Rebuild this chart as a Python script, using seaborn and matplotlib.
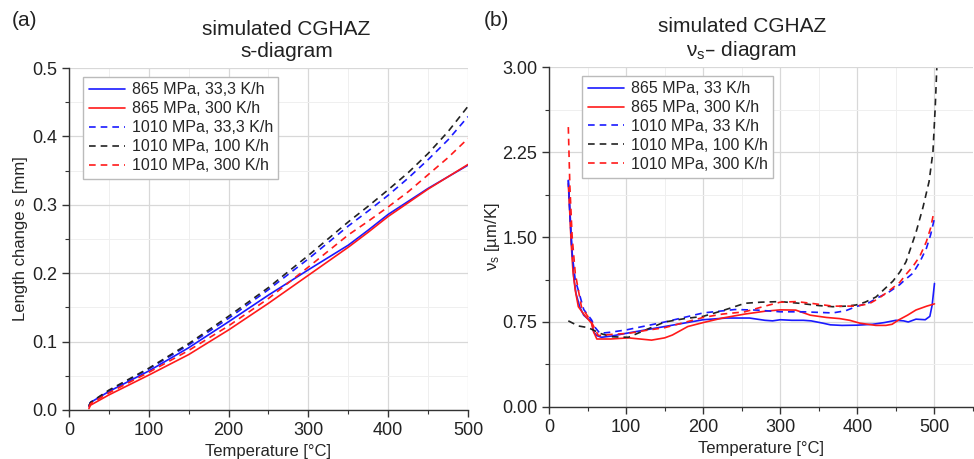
import matplotlib
matplotlib.use("Agg")
import matplotlib.pyplot as plt
import seaborn as sns
import numpy as np
from matplotlib.ticker import MultipleLocator, FormatStrFormatter

# ---- (a) s-diagram: length change s [mm] ----
T_s = [25, 27, 50, 100, 150, 200, 250, 300, 350, 375, 400, 425, 450, 475, 500]
s_865_33 = [0.005, 0.011, 0.027, 0.057, 0.091, 0.129, 0.168, 0.205, 0.241, 0.263, 0.286,
            0.305, 0.324, 0.341, 0.358]
s_865_300 = [0.002, 0.007, 0.022, 0.051, 0.081, 0.117, 0.156, 0.197, 0.238, 0.260, 0.283,
             0.303, 0.323, 0.341, 0.359]
s_1010_33 = [0.006, 0.011, 0.028, 0.060, 0.095, 0.134, 0.176, 0.221, 0.269, 0.291, 0.314,
             0.339, 0.366, 0.395, 0.429]
s_1010_100 = [0.006, 0.011, 0.029, 0.061, 0.097, 0.137, 0.179, 0.226, 0.275, 0.298, 0.322,
              0.347, 0.375, 0.407, 0.444]
s_1010_300 = [0.004, 0.009, 0.025, 0.055, 0.087, 0.123, 0.163, 0.209, 0.256, 0.276, 0.297,
              0.319, 0.344, 0.369, 0.397]

# ---- (b) v_s-diagram: [um/K] ----
T_v_865_33 = [25, 27, 29, 32, 35, 40, 45, 50, 55, 58, 62, 68, 80, 100, 125, 150, 175, 200,
              230, 260, 280, 290, 300, 315, 330, 340, 355, 365, 380, 400, 420, 435, 450,
              460, 466, 476, 488, 494, 497, 500]
v_865_33 = [2.00, 1.75, 1.47, 1.15, 1.00, 0.88, 0.81, 0.78, 0.76, 0.66, 0.63, 0.615, 0.625,
            0.65, 0.68, 0.71, 0.74, 0.77, 0.785, 0.785, 0.765, 0.76, 0.77, 0.765, 0.765,
            0.76, 0.74, 0.725, 0.72, 0.722, 0.73, 0.745, 0.765, 0.76, 0.75, 0.775, 0.77,
            0.80, 0.90, 1.09]

T_v_865_300 = [25, 27, 28.5, 31, 34, 38, 46, 55, 58, 62, 80, 103, 118, 133, 150, 160, 180,
               200, 225, 254, 280, 300, 320, 339, 360, 377, 390, 403, 424, 437, 445, 454,
               465, 476, 490, 500]
v_865_300 = [1.97, 1.70, 1.47, 1.20, 1.03, 0.885, 0.81, 0.74, 0.66, 0.60, 0.60, 0.61, 0.60,
             0.59, 0.61, 0.635, 0.71, 0.745, 0.785, 0.82, 0.845, 0.857, 0.855, 0.81, 0.79,
             0.78, 0.765, 0.74, 0.72, 0.72, 0.73, 0.77, 0.81, 0.856, 0.89, 0.91]

T_v_1010_33 = [25, 27, 30, 34, 38, 45, 55, 60, 66, 80, 100, 125, 150, 175, 200, 241, 270,
               300, 330, 368, 385, 398, 415, 428, 440, 455, 463, 472, 481, 489.5, 495, 499.5]
v_1010_33 = [2.00, 1.70, 1.35, 1.12, 1.03, 0.86, 0.77, 0.70, 0.65, 0.66, 0.68, 0.715, 0.75,
             0.79, 0.83, 0.86, 0.855, 0.84, 0.84, 0.83, 0.85, 0.885, 0.92, 0.97, 1.01, 1.08,
             1.13, 1.18, 1.28, 1.40, 1.52, 1.65]

T_v_1010_100 = [25, 38, 51, 66, 81, 103, 120, 150, 176, 200, 225, 254, 275, 300, 325, 350,
                368, 385, 398, 410, 424, 435, 446, 455, 463, 470, 476, 485, 493, 498, 501, 503]
v_1010_100 = [0.76, 0.715, 0.70, 0.65, 0.62, 0.615, 0.665, 0.75, 0.78, 0.80, 0.85, 0.915,
              0.925, 0.93, 0.915, 0.895, 0.885, 0.89, 0.90, 0.925, 0.97, 1.04, 1.11, 1.19,
              1.28, 1.42, 1.54, 1.76, 1.99, 2.25, 2.65, 2.99]

T_v_1010_300 = [25, 27, 30, 34, 42, 55, 64, 80, 103, 125, 150, 175, 200, 225, 254, 280,
                300, 321, 340, 368, 398, 415, 428, 440, 455, 463, 472, 481, 489.5, 495, 499.5]
v_1010_300 = [2.47, 1.95, 1.50, 1.18, 0.885, 0.75, 0.63, 0.64, 0.65, 0.675, 0.70, 0.745,
              0.79, 0.82, 0.84, 0.89, 0.925, 0.93, 0.915, 0.89, 0.89, 0.91, 0.96, 1.02,
              1.10, 1.17, 1.24, 1.33, 1.46, 1.58, 1.73]

BLUE = "#1a1aff"
RED = "#ff1a1a"
BLACK = "#222222"
DASH = (0, (4, 3))

sns.set_style("ticks")
plt.rcParams["font.family"] = ["Liberation Sans", "DejaVu Sans"]
plt.rcParams["mathtext.default"] = "regular"

fig = plt.figure(figsize=(9.74, 4.59), dpi=100)
ax1 = fig.add_axes([0.0708, 0.1068, 0.4097, 0.7450])
ax2 = fig.add_axes([0.5637, 0.1133, 0.4353, 0.7407])


def style_axis(ax):
    for side in ["top", "right"]:
        ax.spines[side].set_visible(False)
    for side in ["left", "bottom"]:
        ax.spines[side].set_color("#333333")
        ax.spines[side].set_linewidth(1.0)
    ax.grid(True, which="major", color="#d8d8d8", linewidth=0.9)
    ax.grid(True, which="minor", color="#efefef", linewidth=0.7)
    ax.set_axisbelow(True)
    ax.tick_params(which="major", direction="out", length=5, width=1,
                   color="#333333", labelsize=13, labelcolor="#222222")
    ax.tick_params(which="minor", direction="out", length=3, width=0.8, color="#333333")


# ---- panel (a) ----
series_a = [
    (s_865_33, "865 MPa, 33,3 K/h", BLUE, "-"),
    (s_865_300, "865 MPa, 300 K/h", RED, "-"),
    (s_1010_33, "1010 MPa, 33,3 K/h", BLUE, DASH),
    (s_1010_100, "1010 MPa, 100 K/h", BLACK, DASH),
    (s_1010_300, "1010 MPa, 300 K/h", RED, DASH),
]
for vals, lab, col, ls in series_a:
    sns.lineplot(x=T_s, y=vals, ax=ax1, color=col, linestyle=ls, linewidth=1.2, label=lab)

ax1.set_xlim(0, 500)
ax1.set_ylim(0, 0.5)
ax1.xaxis.set_major_locator(MultipleLocator(100))
ax1.xaxis.set_minor_locator(MultipleLocator(50))
ax1.yaxis.set_major_locator(MultipleLocator(0.1))
ax1.yaxis.set_minor_locator(MultipleLocator(0.05))
ax1.yaxis.set_major_formatter(FormatStrFormatter("%.1f"))
style_axis(ax1)
ax1.set_xlabel("Temperature [°C]", fontsize=12, labelpad=4)
ax1.set_ylabel("Length change s [mm]", fontsize=12, labelpad=3)
ax1.set_title("simulated CGHAZ\ns-diagram", fontsize=15, x=0.545, pad=8, color="#222222")

# ---- panel (b) ----
series_b = [
    (T_v_865_33, v_865_33, "865 MPa, 33 K/h", BLUE, "-"),
    (T_v_865_300, v_865_300, "865 MPa, 300 K/h", RED, "-"),
    (T_v_1010_33, v_1010_33, "1010 MPa, 33 K/h", BLUE, DASH),
    (T_v_1010_100, v_1010_100, "1010 MPa, 100 K/h", BLACK, DASH),
    (T_v_1010_300, v_1010_300, "1010 MPa, 300 K/h", RED, DASH),
]
for tt, vals, lab, col, ls in series_b:
    sns.lineplot(x=tt, y=vals, ax=ax2, color=col, linestyle=ls, linewidth=1.2, label=lab)

ax2.set_xlim(0, 550)
ax2.set_ylim(0, 3.0)
ax2.set_xticks([0, 100, 200, 300, 400, 500])
ax2.xaxis.set_minor_locator(MultipleLocator(50))
ax2.yaxis.set_major_locator(MultipleLocator(0.75))
ax2.yaxis.set_minor_locator(MultipleLocator(0.375))
ax2.yaxis.set_major_formatter(FormatStrFormatter("%.2f"))
style_axis(ax2)
ax2.set_xlabel("Temperature [°C]", fontsize=12, labelpad=4)
ax2.set_ylabel("ν$_\\mathregular{s}$ [µm/K]", fontsize=12, labelpad=0)
ax2.set_title("simulated CGHAZ\nν$_\\mathregular{s}$– diagram", fontsize=15, x=0.455, pad=8,
              color="#222222")

for ax, anchor in [(ax1, (0.035, 0.975)), (ax2, (0.078, 0.975))]:
    leg = ax.legend(loc="upper left", bbox_to_anchor=anchor, fontsize=11.5,
                    handlelength=2.3, handletextpad=0.4, labelspacing=0.25,
                    borderpad=0.35, fancybox=False, framealpha=1, borderaxespad=0)
    leg.get_frame().set_edgecolor("#bbbbbb")
    leg.get_frame().set_linewidth(1.0)

fig.text(0.012, 0.955, "(a)", fontsize=15, va="center", color="#222222")
fig.text(0.497, 0.955, "(b)", fontsize=15, va="center", color="#222222")

fig.savefig("out.png", dpi=100)
